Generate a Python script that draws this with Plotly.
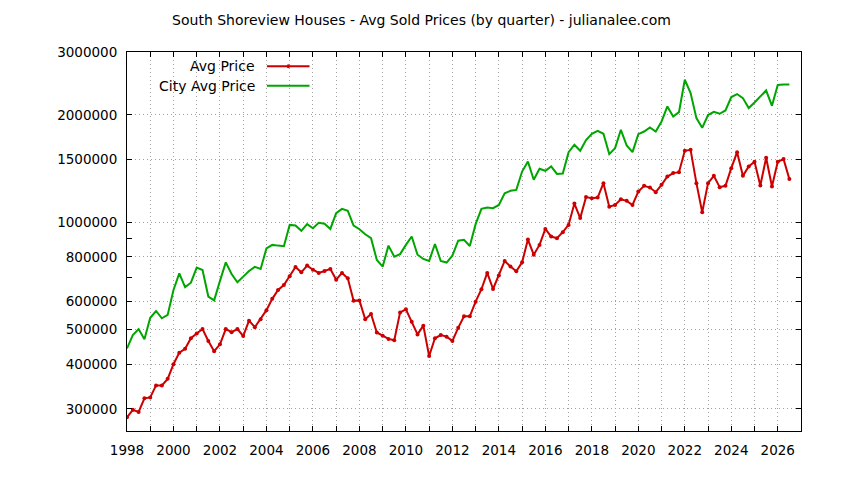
import plotly.graph_objects as go

# quarterly averages, first quarter of 1998 through q3 2026
start_year = 1998
avg_price = [
    284000, 298000, 294000, 321000, 323000, 349000, 349000, 364000,
    400000, 431000, 442000, 473000, 488000, 502000, 465000, 435000,
    455000, 502000, 492000, 502000, 480000, 530000, 508000, 535000,
    567000, 610000, 646000, 667000, 706000, 749000, 724000, 756000,
    736000, 721000, 730000, 740000, 690000, 721000, 697000, 603000,
    604000, 535000, 553000, 491000, 481000, 471000, 467000, 559000,
    570000, 526000, 485000, 513000, 422000, 473000, 483000, 478000,
    465000, 506000, 545000, 545000, 599000, 649000, 721000, 650000,
    709000, 779000, 751000, 729000, 772000, 894000, 811000, 864000,
    958000, 912000, 902000, 938000, 983000, 1128000, 1027000, 1176000,
    1168000, 1173000, 1287000, 1106000, 1118000, 1160000, 1148000, 1118000,
    1219000, 1265000, 1251000, 1214000, 1273000, 1343000, 1373000, 1381000,
    1586000, 1596000, 1287000, 1067000, 1287000, 1349000, 1254000, 1265000,
    1418000, 1572000, 1349000, 1433000, 1477000, 1267000, 1516000, 1259000,
    1477000, 1503000, 1321000,
]
city_avg_price = [
    443000, 483000, 502000, 470000, 540000, 564000, 538000, 550000,
    646000, 719000, 658000, 677000, 746000, 735000, 619000, 604000,
    685000, 772000, 716000, 679000, 704000, 730000, 750000, 740000,
    845000, 864000, 860000, 857000, 983000, 979000, 946000, 988000,
    962000, 996000, 991000, 958000, 1060000, 1090000, 1076000, 979000,
    956000, 925000, 902000, 784000, 751000, 860000, 801000, 814000,
    864000, 912000, 811000, 789000, 779000, 869000, 779000, 771000,
    806000, 888000, 893000, 858000, 988000, 1090000, 1099000, 1095000,
    1118000, 1206000, 1225000, 1232000, 1387000, 1480000, 1315000, 1412000,
    1394000, 1433000, 1366000, 1370000, 1572000, 1649000, 1586000, 1699000,
    1770000, 1804000, 1770000, 1552000, 1613000, 1816000, 1641000, 1572000,
    1766000, 1796000, 1843000, 1796000, 1916000, 2111000, 1979000, 2036000,
    2509000, 2302000, 1958000, 1839000, 1997000, 2040000, 2014000, 2057000,
    2243000, 2287000, 2228000, 2089000, 2166000, 2252000, 2341000, 2120000,
    2424000, 2434000, 2434000,
]
quarters = [start_year + q / 4 for q in range(len(avg_price))]

year_ticks = list(range(1998, 2027))
year_labels = [str(y) if y % 2 == 0 else "" for y in year_ticks]
price_ticks = [300000, 400000, 500000, 600000, 800000, 1000000, 1500000, 2000000, 3000000]
minor_price_ticks = [700000, 900000]

red = "#cc0000"
green = "#00a600"
font = "DejaVu Sans"

fig = go.Figure()
fig.add_trace(go.Scatter(x=quarters, y=avg_price, mode="lines+markers", name="Avg Price",
                         line=dict(color=red, width=2), marker=dict(color=red, size=4)))
fig.add_trace(go.Scatter(x=quarters, y=city_avg_price, mode="lines", name="City Avg Price",
                         line=dict(color=green, width=2)))

# gnuplot style key: text right aligned, sample on the right
key = [("Avg Price", red, 0.9625, True), ("City Avg Price", green, 0.911, False)]
for label, col, ky, pts in key:
    fig.add_annotation(x=0.1932, y=ky, xref="paper", yref="paper", text=label, showarrow=False,
                       xanchor="right", yanchor="middle", font=dict(family=font, size=14, color="black"))
    fig.add_shape(type="line", xref="paper", yref="paper", x0=0.2076, x1=0.2708, y0=ky, y1=ky,
                  line=dict(color=col, width=2))
    if pts:
        fig.add_shape(type="circle", xref="paper", yref="paper", x0=0.2370, x1=0.2416,
                      y0=ky - 0.0055, y1=ky + 0.0055, fillcolor=col, line=dict(color=col, width=0))

# the page body adds 8px, so the figure is 8px smaller than the window
fig.update_layout(
    width=836, height=472,
    margin=dict(l=119, r=43, t=44, b=49),
    paper_bgcolor="white", plot_bgcolor="white",
    showlegend=False,
    font=dict(family=font, size=13.5, color="black"),
    title=dict(text="South Shoreview Houses - Avg Sold Prices (by quarter) - julianalee.com",
               x=0.4946, xref="container", xanchor="center", y=0.9746, yref="container",
               yanchor="middle", font=dict(family=font, size=14, color="black")),
)
fig.update_xaxes(range=[1998, 2027], tickmode="array", tickvals=year_ticks, ticktext=year_labels,
                 ticks="inside", ticklen=5, tickcolor="black", showline=True, linecolor="black",
                 linewidth=1, mirror="allticks", showgrid=True, gridcolor="#a0a0a0", gridwidth=1,
                 griddash="1px,3px", zeroline=False, ticklabelstandoff=7)
fig.update_yaxes(type="log", range=[5.41497, 6.47712], tickmode="array", tickvals=price_ticks,
                 ticktext=[str(v) for v in price_ticks],
                 ticks="inside", ticklen=5, tickcolor="black", showline=True, linecolor="black",
                 linewidth=1, mirror="allticks", showgrid=True, gridcolor="#a0a0a0", gridwidth=1,
                 griddash="1px,3px", zeroline=False, ticklabelstandoff=6,
                 minor=dict(tickmode="array", tickvals=minor_price_ticks, ticks="inside",
                            ticklen=5, tickcolor="black", showgrid=False))

fig.write_html("out.html")
